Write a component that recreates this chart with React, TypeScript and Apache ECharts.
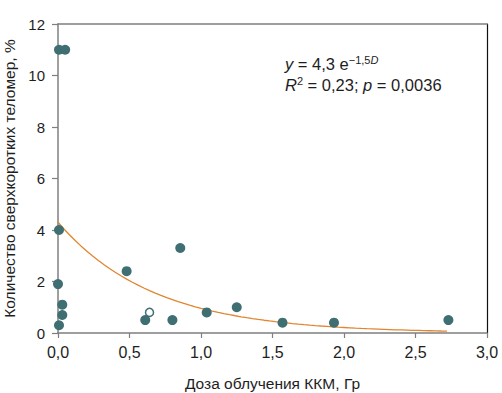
import React, { useEffect, useRef } from "react";
import * as echarts from "echarts";

// Measured points (dose, Gy ; % ultrashort telomeres)
const filledPoints: [number, number][] = [
  [0.007, 11.0],
  [0.05, 11.0],
  [0.007, 4.0],
  [0.0, 1.9],
  [0.03, 1.1],
  [0.03, 0.7],
  [0.007, 0.3],
  [0.48, 2.4],
  [0.855, 3.3],
  [0.61, 0.5],
  [0.8, 0.5],
  [1.04, 0.8],
  [1.25, 1.0],
  [1.57, 0.4],
  [1.93, 0.4],
  [2.73, 0.5],
];
const hollowPoints: [number, number][] = [[0.64, 0.8]];

// Fit from the annotation: y = 4,3 e^(-1,5 D), drawn over 0..2.72
const FIT_A = 4.3;
const FIT_K = 1.5;
const FIT_X_MAX = 2.72;
const fitXs: number[] = Array.from({ length: 69 }, (_, i) => (i * FIT_X_MAX) / 68);

const xTicks = { min: 0, max: 3, interval: 0.5 };
const yTicks = { min: 0, max: 12, interval: 2 };

const xTitle = "Доза облучения ККМ, Гр";
const yTitle = "Количество сверхкоротких теломер, %";

const FONT = "Liberation Sans, Arial, Helvetica, sans-serif";
const TEAL = "#3f6f72";
const ORANGE = "#e08530";
const AXIS_GRAY = "#7f7f7f";
const TEXT = "#1e1e1e";

export default function App() {
  const ref = useRef<HTMLDivElement>(null);
  useEffect(() => {
    if (!ref.current) return;
    const chart = echarts.init(ref.current, undefined, { renderer: "svg" });
    const fitData = fitXs.map((x) => [x, FIT_A * Math.exp(-FIT_K * x)]);
    chart.setOption({
      animation: false,
      backgroundColor: "#ffffff",
      textStyle: { fontFamily: FONT },
      grid: {
        left: 58,
        right: 15,
        top: 24,
        bottom: 60,
        containLabel: false,
        outerBoundsMode: "none",
      },
      xAxis: [
        {
          type: "value",
          min: xTicks.min,
          max: xTicks.max,
          interval: xTicks.interval,
          name: xTitle,
          nameLocation: "middle",
          nameGap: 42,
          nameTextStyle: { fontSize: 15.5, color: TEXT, fontFamily: FONT },
          axisLine: { show: true, onZero: false, lineStyle: { color: AXIS_GRAY, width: 1.5 } },
          axisTick: { show: true, inside: false, length: 5, lineStyle: { color: AXIS_GRAY, width: 1.2 } },
          axisLabel: {
            fontSize: 16,
            color: TEXT,
            margin: 11,
            fontFamily: FONT,
            showMaxLabel: true,
            formatter: (v: number) => v.toFixed(1).replace(".", ","),
          },
          splitLine: { show: false },
        },
        {
          type: "value",
          position: "top",
          min: xTicks.min,
          max: xTicks.max,
          axisLine: { show: true, onZero: false, lineStyle: { color: AXIS_GRAY, width: 1.5 } },
          axisTick: { show: false },
          axisLabel: { show: false },
          splitLine: { show: false },
        },
      ],
      yAxis: [
        {
          type: "value",
          min: yTicks.min,
          max: yTicks.max,
          interval: yTicks.interval,
          name: yTitle,
          nameLocation: "middle",
          nameGap: 40,
          nameTextStyle: { fontSize: 15.5, color: TEXT, fontFamily: FONT },
          axisLine: { show: true, onZero: false, lineStyle: { color: AXIS_GRAY, width: 1.5 } },
          axisTick: { show: true, inside: false, length: 6, lineStyle: { color: AXIS_GRAY, width: 1.2 } },
          axisLabel: { fontSize: 15, color: TEXT, margin: 13, fontFamily: FONT },
          splitLine: { show: false },
        },
        {
          type: "value",
          position: "right",
          min: yTicks.min,
          max: yTicks.max,
          axisLine: { show: true, onZero: false, lineStyle: { color: "#111", width: 1.2 } },
          axisTick: { show: false },
          axisLabel: { show: false },
          splitLine: { show: false },
        },
      ],
      graphic: [
        {
          type: "text",
          left: 285,
          top: 54,
          style: {
            text: "{i|y} = 4,3 e{s|−1,5}{si|D}",
            fontFamily: FONT,
            fontSize: 16.5,
            fill: TEXT,
            rich: {
              i: { fontStyle: "italic", fontSize: 16.5, fontFamily: FONT, fill: TEXT },
              s: { fontSize: 11, fontFamily: FONT, fill: TEXT, padding: [0, 0, 8, 0] },
              si: { fontSize: 11, fontStyle: "italic", fontFamily: FONT, fill: TEXT, padding: [0, 0, 8, 0] },
            },
          },
        },
        {
          type: "text",
          left: 285,
          top: 75,
          style: {
            text: "{i|R}{s|2} = 0,23; {i|p} = 0,0036",
            fontFamily: FONT,
            fontSize: 16.5,
            fill: TEXT,
            rich: {
              i: { fontStyle: "italic", fontSize: 16.5, fontFamily: FONT, fill: TEXT },
              s: { fontSize: 11, fontFamily: FONT, fill: TEXT, padding: [0, 0, 8, 0] },
            },
          },
        },
      ],
      series: [
        {
          type: "line",
          data: fitData,
          showSymbol: false,
          symbol: "none",
          smooth: false,
          lineStyle: { color: ORANGE, width: 1.3 },
          z: 2,
        },
        {
          type: "scatter",
          data: filledPoints,
          symbolSize: 10,
          clip: false,
          itemStyle: { color: TEAL, opacity: 1 },
          z: 3,
        },
        {
          type: "scatter",
          data: hollowPoints,
          symbolSize: 8,
          clip: false,
          itemStyle: { color: "#ffffff", borderColor: TEAL, borderWidth: 1.5, opacity: 1 },
          z: 4,
        },
      ],
    });
    return () => chart.dispose();
  }, []);
  return (
    <div
      ref={ref}
      style={{ position: "fixed", left: 0, top: 0, width: 502, height: 393 }}
    />
  );
}
